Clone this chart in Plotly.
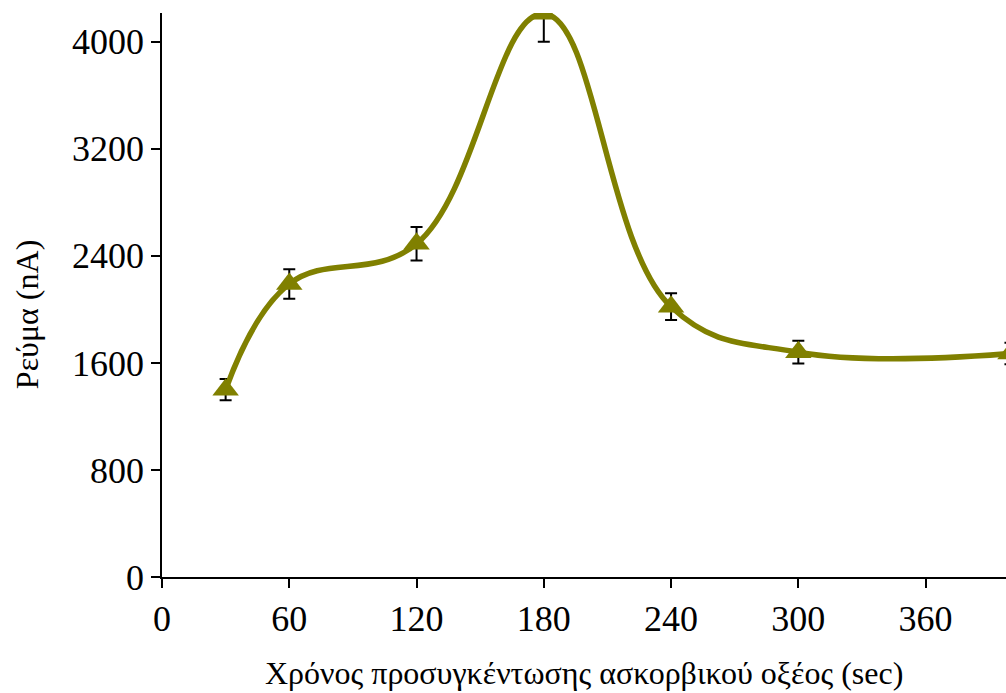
import plotly.graph_objects as go

# Preconcentration time (sec) and measured current (nA)
time_sec = [30, 60, 120, 180, 240, 300, 400]
current_na = [1400, 2190, 2490, 4210, 2020, 1680, 1670]
current_err = [80, 110, 125, 210, 100, 85, 80]

x_ticks = [0, 60, 120, 180, 240, 300, 360]
y_ticks = [0, 800, 1600, 2400, 3200, 4000]

x_title = "Χρόνος προσυγκέντωσης ασκορβικού οξέος (sec)"
y_title = "Ρεύμα (nA)"

olive = "#808000"
font_family = "Liberation Serif, Times New Roman, serif"

fig = go.Figure()
fig.add_trace(go.Scatter(
    x=time_sec,
    y=current_na,
    mode="lines+markers",
    line=dict(color=olive, width=5.5, shape="spline", smoothing=1.15),
    marker=dict(symbol="triangle-up", size=23, color=olive),
    error_y=dict(type="data", array=current_err, visible=True,
                 color="black", thickness=2, width=6),
    cliponaxis=True,
    showlegend=False,
))

axis_style = dict(
    showgrid=False,
    zeroline=False,
    showline=True,
    linecolor="black",
    linewidth=1.5,
    ticks="outside",
    ticklen=9,
    tickwidth=1.5,
    tickcolor="black",
    tickfont=dict(size=36),
)

fig.update_layout(
    width=1006,
    height=693,
    margin=dict(l=162, r=0, t=13, b=116),
    paper_bgcolor="white",
    plot_bgcolor="white",
    font=dict(family=font_family, size=32, color="black"),
    xaxis=dict(
        range=[0, 397.9],
        tickmode="array",
        tickvals=x_ticks,
        ticktext=[str(v) for v in x_ticks],
        **axis_style,
    ),
    yaxis=dict(
        range=[0, 4215],
        tickmode="array",
        tickvals=y_ticks,
        ticktext=[str(v) for v in y_ticks],
        **axis_style,
    ),
    annotations=[
        dict(text=x_title, xref="paper", yref="paper",
             x=0.50, y=-0.171, xanchor="center", yanchor="middle",
             showarrow=False, font=dict(size=32)),
        dict(text=y_title, xref="paper", yref="paper",
             x=-0.160, y=0.466, xanchor="center", yanchor="middle",
             textangle=-90, showarrow=False, font=dict(size=32)),
    ],
)

fig.write_html("out.html")
